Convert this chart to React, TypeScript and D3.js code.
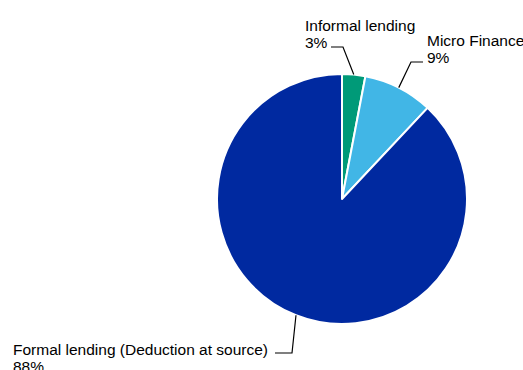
import React from "react";
import * as d3 from "d3";

const categories = ["Informal lending", "Micro Finance", "Formal lending (Deduction at source)"];
const values = [3, 9, 88];
const valueLabels = ["3%", "9%", "88%"];
const colors = ["#009A78", "#41B6E6", "#0029A0"];

const W = 523;
const H = 370;
const cx = 342;
const cy = 199;
const R = 125;
const FONT = 15.5;
const LINE = 17;

// label layout: text anchor point (x, first baseline), elbow, horizontal end
const labelLayout = [
  { tx: 305, ty: 31, anchor: "start", elbow: [343, 47], end: [331, 47] },
  { tx: 427, ty: 46, anchor: "start", elbow: [411, 62], end: [423, 62] },
  { tx: 268, ty: 355, anchor: "end", elbow: [292, 353], end: [275, 353] },
];

export default function App() {
  const pie = d3
    .pie<number>()
    .sort(null)
    .value((d) => d)
    .startAngle(0)
    .endAngle(2 * Math.PI);
  const arcs = pie(values);
  const arc = d3.arc<d3.PieArcDatum<number>>().innerRadius(0).outerRadius(R);

  return (
    <svg
      width={W}
      height={H}
      style={{ position: "absolute", left: 0, top: 0, background: "#fff" }}
      fontFamily="'Liberation Sans', Arial, sans-serif"
    >
      <g transform={`translate(${cx},${cy})`}>
        {arcs.map((a, i) => (
          <path key={i} d={arc(a) || ""} fill={colors[i]} stroke="#fff" strokeWidth={2} strokeLinejoin="round" />
        ))}
      </g>
      {arcs.map((a, i) => {
        const mid = (a.startAngle + a.endAngle) / 2;
        const px = cx + R * Math.sin(mid);
        const py = cy - R * Math.cos(mid);
        const L = labelLayout[i];
        const pts = `${px},${py} ${L.elbow[0]},${L.elbow[1]} ${L.end[0]},${L.end[1]}`;
        return (
          <g key={i}>
            <polyline points={pts} fill="none" stroke="#000" strokeWidth={1.2} />
            <text x={L.tx} y={L.ty} fontSize={FONT} fill="#000" textAnchor={L.anchor as any}>
              {categories[i]}
            </text>
            <text x={L.tx - (L.anchor === "end" ? 255 : 0)} y={L.ty + LINE} fontSize={FONT} fill="#000" textAnchor="start">
              {valueLabels[i]}
            </text>
          </g>
        );
      })}
    </svg>
  );
}
